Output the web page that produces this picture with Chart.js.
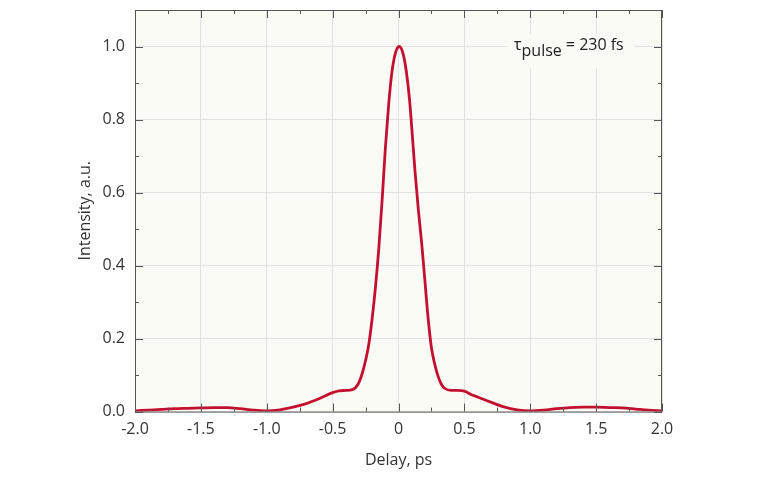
<!DOCTYPE html>
<html>
<head>
<meta charset="utf-8">
<script src="https://cdn.jsdelivr.net/npm/chart.js@4.4.1/dist/chart.umd.min.js"></script>
<style>
  html, body { margin: 0; padding: 0; background: #fff; }
  #wrap { width: 768px; height: 480px; }
</style>
</head>
<body>
<div id="wrap"><canvas id="pulse-chart"></canvas></div>
<script>
// autocorrelation trace
const delays = [-2.0, -1.9, -1.8, -1.7, -1.6, -1.5, -1.4, -1.3, -1.2, -1.1, -1.0, -0.9, -0.8, -0.7, -0.6,
    -0.5, -0.45, -0.4, -0.35, -0.325, -0.3, -0.275, -0.25, -0.225, -0.2, -0.175, -0.15, -0.125, -0.1, -0.075,
    -0.05, -0.025, 0.005, 0.035, 0.06, 0.085, 0.1, 0.125, 0.15, 0.175, 0.2, 0.225, 0.25, 0.275, 0.3, 0.325,
    0.35, 0.4, 0.45, 0.5, 0.55, 0.6, 0.7, 0.8, 0.9, 1.0, 1.1, 1.2, 1.3, 1.4, 1.5, 1.6, 1.7, 1.8, 1.9, 2.0];
const intensity = [0.002, 0.004, 0.006, 0.008, 0.009, 0.010, 0.011, 0.011, 0.008, 0.004, 0.002, 0.005, 0.012, 0.022, 0.036,
    0.052, 0.057, 0.058, 0.060, 0.066, 0.080, 0.105, 0.140, 0.185, 0.255, 0.340, 0.445, 0.575, 0.720, 0.840,
    0.930, 0.980, 1.000, 0.980, 0.930, 0.850, 0.780, 0.660, 0.555, 0.465, 0.360, 0.255, 0.175, 0.130, 0.097, 0.075,
    0.064, 0.058, 0.058, 0.056, 0.047, 0.040, 0.026, 0.013, 0.005, 0.002, 0.004, 0.008, 0.011, 0.012, 0.012, 0.011,
    0.010, 0.007, 0.004, 0.002];
const xTicks = [-2.0, -1.5, -1.0, -0.5, 0, 0.5, 1.0, 1.5, 2.0];
const yTicks = [0.0, 0.2, 0.4, 0.6, 0.8, 1.0];

const plotBg = '#fbfbf6';
const frameColor = '#555555';
const fontFamily = 'Open Sans';

let points = delays.map((d, i) => ({ x: d, y: intensity[i] }));

// background, frame, inward ticks and the pulse label
const framePlugin = {
    id: 'frame',
    beforeDraw(chart) {
        let a = chart.chartArea;
        let c = chart.ctx;
        c.save();
        c.fillStyle = plotBg;
        c.fillRect(a.left, a.top, a.right - a.left, a.bottom - a.top);
        c.restore();
    },
    afterDatasetsDraw(chart) {
        let a = chart.chartArea;
        let c = chart.ctx;
        let xs = chart.scales.x;
        let ys = chart.scales.y;
        c.save();
        c.strokeStyle = frameColor;
        c.lineWidth = 1;
        c.strokeRect(a.left + 0.5, a.top + 0.5, a.right - a.left - 1, a.bottom - a.top);
        c.beginPath();
        for (let v = -2; v <= 2.001; v += 0.25) {
            let px = Math.round(xs.getPixelForValue(v)) + 0.5;
            let len = Math.abs(v * 2 - Math.round(v * 2)) < 0.01 ? 8 : 4;
            c.moveTo(px, a.bottom); c.lineTo(px, a.bottom - len);
            c.moveTo(px, a.top); c.lineTo(px, a.top + len);
        }
        for (let v = 0; v <= 1.1; v += 0.1) {
            let py = Math.round(ys.getPixelForValue(v)) + 0.5;
            let len = Math.round(v * 10) % 2 === 0 ? 8 : 4;
            c.moveTo(a.left, py); c.lineTo(a.left + len, py);
            c.moveTo(a.right, py); c.lineTo(a.right - len, py);
        }
        c.stroke();

        // label box
        c.fillStyle = plotBg;
        c.fillRect(508, 34, 126, 34);
        c.fillStyle = '#222';
        c.textBaseline = 'alphabetic';
        c.font = '16px "' + fontFamily + '"';
        let x = 514;
        c.fillText('τ', x, 50);
        x += c.measureText('τ').width;
        c.fillText('pulse', x, 56);
        x += c.measureText('pulse').width + 4;
        c.fillText('= 230 fs', x, 50);
        c.restore();
    }
};

const ctx = document.getElementById('pulse-chart').getContext('2d');
const myChart = new Chart(ctx, {
    type: 'line',
    data: {
        datasets: [{
            data: points,
            borderColor: '#c3102f',
            borderWidth: 2.8,
            pointRadius: 0,
            cubicInterpolationMode: 'monotone',
            fill: false
        }]
    },
    options: {
        responsive: true,
        maintainAspectRatio: false,
        animation: false,
        layout: { padding: { left: 72, right: 106, top: 10, bottom: 6 } },
        plugins: {
            legend: { display: false },
            tooltip: { enabled: false }
        },
        scales: {
            x: {
                type: 'linear',
                min: -2,
                max: 2,
                afterBuildTicks: s => { s.ticks = xTicks.map(v => ({ value: v })); },
                ticks: {
                    padding: 8,
                    color: '#333',
                    font: { family: fontFamily, size: 16 },
                    callback: v => v === 0 ? '0' : v.toFixed(1)
                },
                grid: { color: '#e2e2e2', drawTicks: false },
                border: { display: false },
                title: {
                    display: true,
                    text: 'Delay, ps',
                    color: '#333',
                    font: { family: fontFamily, size: 16 },
                    padding: { top: 4 }
                }
            },
            y: {
                min: 0,
                max: 1.1,
                afterBuildTicks: s => { s.ticks = yTicks.map(v => ({ value: v })); },
                afterFit: s => { s.width = 63; s.paddingTop = 0; },
                ticks: {
                    padding: 10,
                    color: '#333',
                    font: { family: fontFamily, size: 16 },
                    callback: v => v.toFixed(1)
                },
                grid: { color: '#e2e2e2', drawTicks: false },
                border: { display: false },
                title: {
                    display: true,
                    text: 'Intensity, a.u.',
                    color: '#333',
                    font: { family: fontFamily, size: 16 },
                    padding: { top: 4 }
                }
            }
        }
    },
    plugins: [framePlugin]
});
</script>
</body>
</html>
